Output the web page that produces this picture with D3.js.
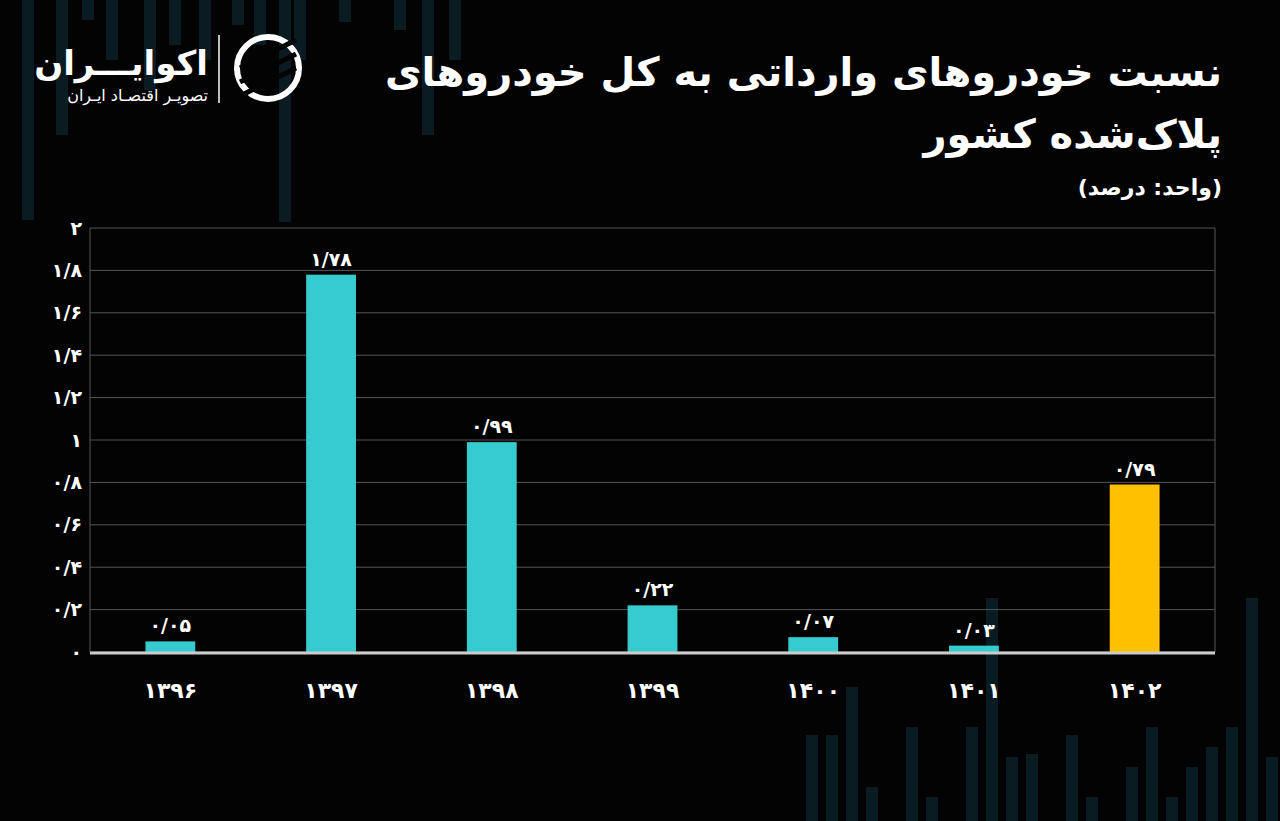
<!DOCTYPE html>
<html>
<head>
<meta charset="utf-8">
<script src="https://cdn.jsdelivr.net/npm/d3@7"></script>
<style>
  body { margin: 0; background: #000; }
  text { font-family: "DejaVu Sans", sans-serif; }
</style>
</head>
<body>
<div class="chart"></div>
<script>
// Chart data.
var years = ["1396", "1397", "1398", "1399", "1400", "1401", "1402"];
var values = [0.05, 1.78, 0.99, 0.22, 0.07, 0.03, 0.79];
var yTicks = [0, 0.2, 0.4, 0.6, 0.8, 1, 1.2, 1.4, 1.6, 1.8, 2];

var w = 1280,
    h = 821;

var svg = d3.select(".chart").append("svg")
  .attr("width", w)
  .attr("height", h)
  .style("display", "block");

svg.append("rect").attr("width", w).attr("height", h).attr("fill", "#030303");

// Faint decorative background bars (top-left hangs down, bottom-right rises up).
var decoTop = [[28, 220], [62, 135], [88, 20], [112, 60], [150, 90], [175, 45], [205, 60], [238, 25], [260, 45], [285, 222], [300, 60], [345, 22], [400, 30], [428, 135], [455, 60]];
var decoBottom = [[812, 735], [832, 735], [852, 687], [872, 787], [912, 727], [932, 797], [972, 727], [992, 598], [1012, 757], [1032, 754], [1072, 735], [1092, 797], [1132, 767], [1152, 727], [1172, 797], [1192, 767], [1212, 747], [1232, 727], [1252, 598], [1272, 757]];
svg.selectAll(".decoT").data(decoTop).enter().append("rect")
  .attr("x", function(d) { return d[0] - 6; })
  .attr("y", 0)
  .attr("width", 12)
  .attr("height", function(d) { return d[1]; })
  .attr("fill", "#0a1c22");
svg.selectAll(".decoB").data(decoBottom).enter().append("rect")
  .attr("x", function(d) { return d[0] - 6; })
  .attr("y", function(d) { return d[1]; })
  .attr("width", 12)
  .attr("height", function(d) { return h - d[1]; })
  .attr("fill", "#0a1c22");

// Persian digits, "/" as decimal mark.
function fa(v) {
  var s = String(Math.round(v * 100) / 100).replace(".", "/");
  return s.replace(/\d/g, function(c) { return "۰۱۲۳۴۵۶۷۸۹"[+c]; });
}

var plotLeft = 90, plotRight = 1215, plotTop = 228, plotBottom = 652;

var xScale = d3.scaleBand()
  .domain(years)
  .range([plotLeft, plotRight])
  .paddingInner(0.69)
  .paddingOuter(0.345);

var yScale = d3.scaleLinear()
  .domain([0, 2])
  .range([plotBottom, plotTop]);

// Gridlines.
svg.selectAll(".grid").data(yTicks).enter().append("line")
  .attr("x1", plotLeft).attr("x2", plotRight)
  .attr("y1", function(d) { return yScale(d); })
  .attr("y2", function(d) { return yScale(d); })
  .attr("stroke", "#555")
  .attr("stroke-width", 1);
svg.append("line")
  .attr("x1", plotLeft).attr("x2", plotLeft).attr("y1", plotTop).attr("y2", plotBottom)
  .attr("stroke", "#555");
svg.append("line")
  .attr("x1", plotRight).attr("x2", plotRight).attr("y1", plotTop).attr("y2", plotBottom)
  .attr("stroke", "#555");

// Y tick labels.
svg.selectAll(".ytick").data(yTicks).enter().append("text")
  .attr("x", plotLeft - 8)
  .attr("y", function(d) { return yScale(d); })
  .attr("dy", "0.35em")
  .attr("text-anchor", "end")
  .attr("fill", "#fff")
  .style("font-size", "19px")
  .style("font-weight", "bold")
  .text(function(d) { return fa(d); });

// Bars.
svg.selectAll(".bar").data(values).enter().append("rect")
  .attr("x", function(d, i) { return xScale(years[i]); })
  .attr("y", function(d) { return yScale(d); })
  .attr("width", xScale.bandwidth())
  .attr("height", function(d) { return plotBottom - yScale(d); })
  .attr("fill", function(d, i) { return i === years.length - 1 ? "#ffc000" : "#36cbce"; });

// Baseline.
svg.append("line")
  .attr("x1", plotLeft).attr("x2", plotRight).attr("y1", plotBottom + 1).attr("y2", plotBottom + 1)
  .attr("stroke", "#ccc").attr("stroke-width", 3);

// Value labels.
svg.selectAll(".val").data(values).enter().append("text")
  .attr("x", function(d, i) { return xScale(years[i]) + xScale.bandwidth() / 2; })
  .attr("y", function(d) { return yScale(d) - 9; })
  .attr("text-anchor", "middle")
  .attr("fill", "#fff")
  .style("font-size", "19px")
  .style("font-weight", "bold")
  .text(function(d) { return fa(d); });

// X labels.
svg.selectAll(".xl").data(years).enter().append("text")
  .attr("x", function(d) { return xScale(d) + xScale.bandwidth() / 2; })
  .attr("y", 698)
  .attr("text-anchor", "middle")
  .attr("fill", "#fff")
  .style("font-size", "22px")
  .style("font-weight", "bold")
  .text(function(d) { return fa(+d); });

// Right-to-left text helper, anchored at its right edge.
function rtl(x, y, size, weight, str) {
  return svg.append("text")
    .attr("x", x).attr("y", y)
    .attr("direction", "rtl").attr("text-anchor", "start")
    .attr("fill", "#fff")
    .style("font-size", size + "px").style("font-weight", weight)
    .text(str);
}

// Title and unit.
rtl(1222, 86, 40, "bold", "نسبت خودروهای وارداتی به کل خودروهای");
rtl(1222, 148, 40, "bold", "پلاک‌شده کشور");
rtl(1222, 195, 22, "bold", "(واحد: درصد)");

// Logo.
rtl(208, 75, 34, "bold", "اکوایـــران");
rtl(208, 101, 16, "normal", "تصویـر اقتصـاد ایـران");
svg.append("line")
  .attr("x1", 219).attr("x2", 219).attr("y1", 35).attr("y2", 103)
  .attr("stroke", "#fff").attr("stroke-width", 1.5);
var logo = svg.append("g").attr("transform", "translate(268,68)");
logo.append("circle").attr("r", 31).attr("fill", "none").attr("stroke", "#fff").attr("stroke-width", 6);
[-14, 0, 14].forEach(function(o) {
  logo.append("line")
    .attr("x1", -28).attr("y1", o + 14).attr("x2", 28).attr("y2", o - 14)
    .attr("stroke", "#030303").attr("stroke-width", 5);
});
</script>
</body>
</html>
